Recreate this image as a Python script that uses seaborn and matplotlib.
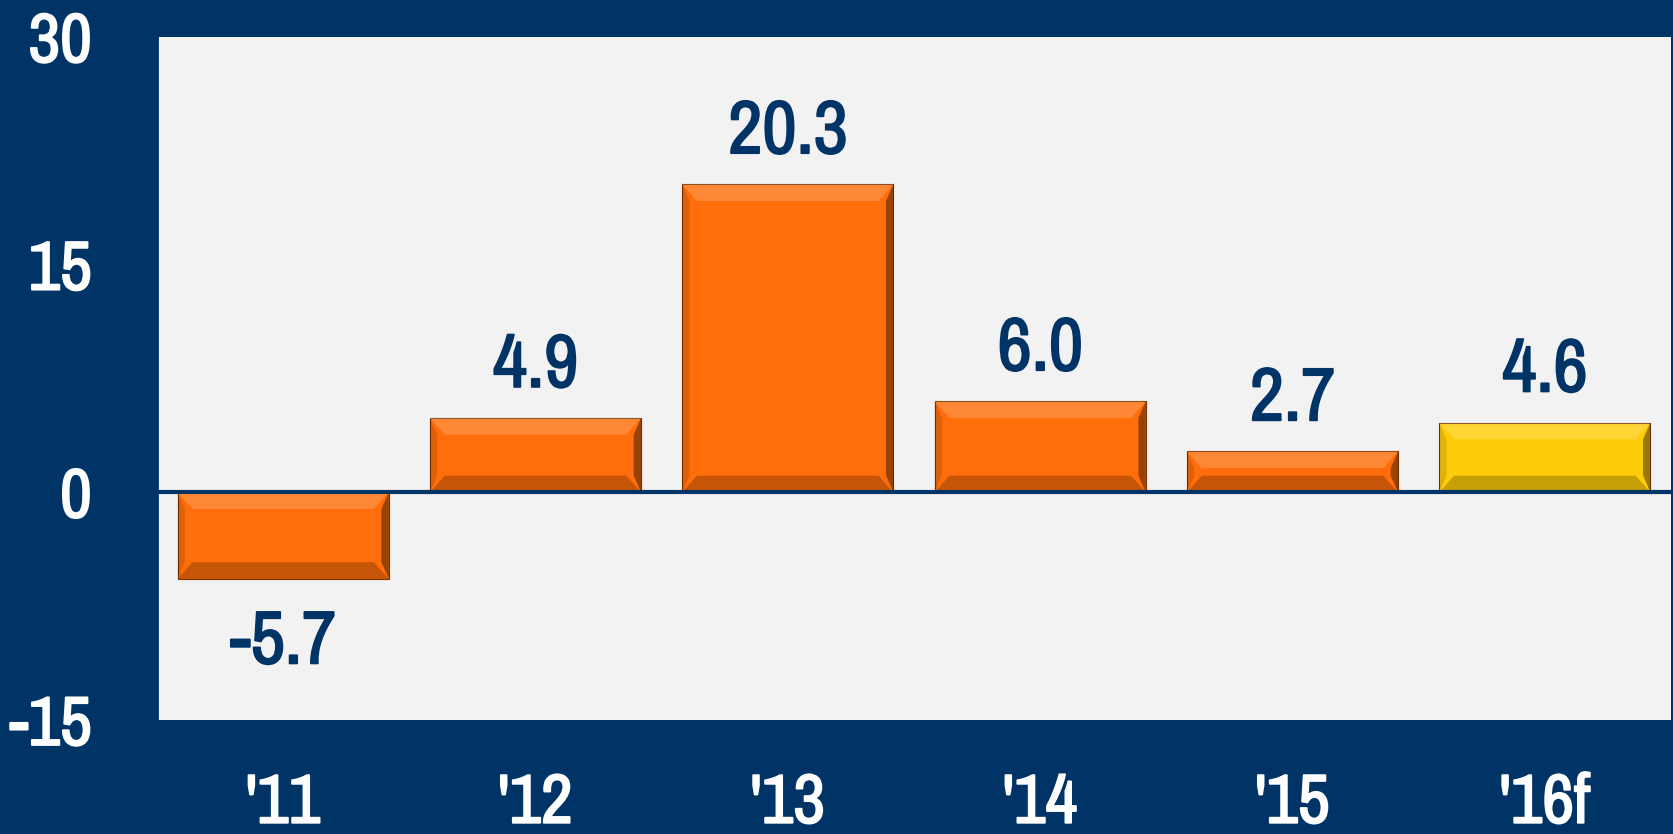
import matplotlib
matplotlib.use("Agg")
import matplotlib.pyplot as plt
import matplotlib.patheffects as pe
import seaborn as sns
import pandas as pd
from matplotlib.patches import Polygon

categories = ["'11", "'12", "'13", "'14", "'15", "'16f"]
values = [-5.7, 4.9, 20.3, 6.0, 2.7, 4.6]
labels = ["-5.7", "4.9", "20.3", "6.0", "2.7", "4.6"]
kinds = ["actual", "actual", "actual", "actual", "actual", "forecast"]
yticks = [-15, 0, 15, 30]

NAVY = "#003466"
PLOTBG = "#F2F2F2"
ORANGE = "#FF6E0A"
YELLOW = "#FFCC0A"

sns.set_theme(style="white")
plt.rcParams['font.family'] = ['Liberation Sans Narrow', 'Arial Narrow', 'Archivo Narrow',
                               'Liberation Sans', 'DejaVu Sans']

df = pd.DataFrame({"cat": categories, "val": values, "kind": kinds})

fig = plt.figure(figsize=(16.73, 8.34), dpi=100, facecolor=NAVY)
ax = fig.add_axes([157/1673, (834-720)/834, (1671-157)/1673, (720-37)/834])
ax.set_facecolor(PLOTBG)

sns.barplot(data=df, x="cat", y="val", hue="kind",
            palette={"actual": ORANGE, "forecast": YELLOW},
            dodge=False, width=0.837, legend=False, ax=ax,
            edgecolor="#7a3300", linewidth=0.8, saturation=1)

ax.set_ylim(-15, 30)
ax.set_xlim(-0.5, len(categories) - 0.5)
ax.axhline(0, color=NAVY, lw=3, zorder=5)

# bevel effect derived from each bar's geometry
for p in ax.patches:
    x0, y0 = p.get_x(), p.get_y()
    w, h = p.get_width(), p.get_height()
    ylo, yhi = min(y0, y0 + h), max(y0, y0 + h)
    bx = w * 0.07
    by = 1.1
    ax.add_patch(Polygon([[x0, yhi], [x0 + w, yhi], [x0 + w - bx, yhi - by], [x0 + bx, yhi - by]],
                         closed=True, facecolor="white", alpha=0.18, lw=0, zorder=3))
    ax.add_patch(Polygon([[x0, ylo], [x0 + w, ylo], [x0 + w - bx, ylo + by], [x0 + bx, ylo + by]],
                         closed=True, facecolor="black", alpha=0.22, lw=0, zorder=3))
    ax.add_patch(Polygon([[x0 + w, ylo], [x0 + w, yhi], [x0 + w - bx * 0.5, yhi - by], [x0 + w - bx * 0.5, ylo + by]],
                         closed=True, facecolor="black", alpha=0.4, lw=0, zorder=3))
    ax.add_patch(Polygon([[x0, ylo], [x0, yhi], [x0 + bx * 0.5, yhi - by], [x0 + bx * 0.5, ylo + by]],
                         closed=True, facecolor="black", alpha=0.12, lw=0, zorder=3))

navy_bold = [pe.withStroke(linewidth=1.3, foreground=NAVY)]
white_bold = [pe.withStroke(linewidth=1.3, foreground="white")]

for i, (v, lab) in enumerate(zip(values, labels)):
    if v >= 0:
        ax.annotate(lab, (i, v), xytext=(0, 13), textcoords="offset points",
                    ha="center", va="bottom", fontsize=54, fontweight="bold", color=NAVY,
                    path_effects=navy_bold)
    else:
        ax.annotate(lab, (i, v), xytext=(0, -22), textcoords="offset points",
                    ha="center", va="top", fontsize=54, fontweight="bold", color=NAVY,
                    path_effects=navy_bold)

ax.set_yticks(yticks)
ax.set_yticklabels([str(t) for t in yticks])
ax.tick_params(axis="y", length=0, pad=47, labelsize=50, labelcolor="white")
ax.tick_params(axis="x", length=0, pad=38, labelsize=50, labelcolor="white")
for lab in ax.get_xticklabels() + ax.get_yticklabels():
    lab.set_fontweight("bold")
    lab.set_path_effects(white_bold)
ax.set_xlabel("")
ax.set_ylabel("")
for s in ax.spines.values():
    s.set_visible(False)
ax.spines["left"].set_visible(True)
ax.spines["left"].set_color(NAVY)
ax.spines["left"].set_linewidth(2)

fig.savefig("out.png", dpi=100, facecolor=NAVY)
